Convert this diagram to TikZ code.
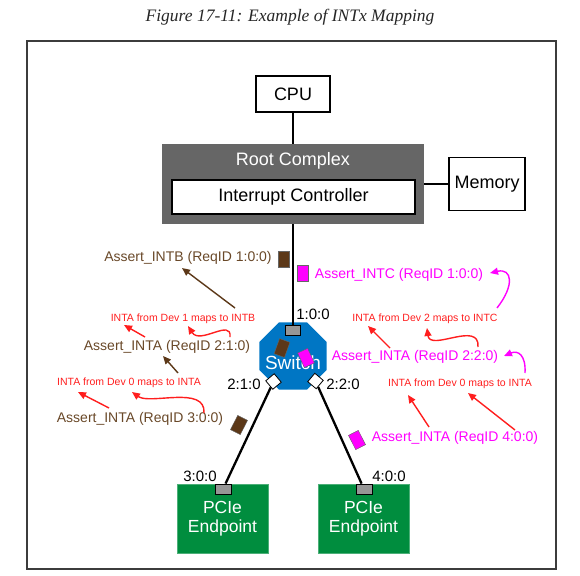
\documentclass[tikz,border=0pt]{standalone}
\usepackage{fontspec}
\setsansfont{Liberation Sans}
\newfontfamily\titlefont{Liberation Serif}
\usetikzlibrary{shapes.geometric,arrows.meta}
\definecolor{frameC}{RGB}{60,60,60}
\definecolor{rcgray}{RGB}{102,102,102}
\definecolor{swblue}{RGB}{0,118,196}
\definecolor{epgreen}{RGB}{0,141,62}
\definecolor{brownT}{RGB}{105,72,40}
\definecolor{brownP}{RGB}{92,56,24}
\definecolor{magT}{RGB}{255,0,255}
\definecolor{redT}{RGB}{255,30,30}
\definecolor{portgray}{RGB}{150,150,150}
\tikzset{
  box/.style={draw=black, line width=1.6pt, fill=white, inner sep=0pt, font=\sffamily\fontsize{18}{20}\selectfont},
  link/.style={draw=black, line width=2.3pt},
  portbox/.style={draw=black, line width=0.8pt, fill=portgray, inner sep=0pt, minimum width=15, minimum height=10},
  diam/.style={draw=black, line width=0.8pt, fill=white, inner sep=0pt, minimum width=11, minimum height=11},
  epbox/.style={fill=epgreen, draw=epgreen!70!white, line width=0.6pt, text=white, inner sep=0pt, minimum width=91, minimum height=69, align=center, font=\sffamily\fontsize{17.5}{18.5}\selectfont},
  pkt/.style={draw=black!60, line width=0.4pt, inner sep=0pt, minimum width=11, minimum height=16},
  lblB/.style={text=brownT, inner sep=0pt, font=\sffamily\fontsize{14}{16}\selectfont},
  lblM/.style={text=magT, inner sep=0pt, font=\sffamily\fontsize{14}{16}\selectfont},
  lblR/.style={text=redT, inner sep=0pt, font=\sffamily\fontsize{10.5}{12}\selectfont},
  portlbl/.style={text=black, inner sep=0pt, font=\sffamily\fontsize{15}{16}\selectfont},
  arrB/.style={draw=brownP, line width=1.4pt, -{Triangle[length=8pt,width=7pt]}},
  arrR/.style={draw=redT, line width=1.4pt, -{Triangle[length=8pt,width=7pt]}},
  arrM/.style={draw=magT, line width=1.4pt, -{Triangle[length=8pt,width=7pt]}},
}
\begin{document}
\begin{tikzpicture}[x=1pt,y=-1pt]
\useasboundingbox (0,0) rectangle (580,575);
% title and frame
\node[font=\titlefont\itshape\fontsize{17.5}{20}\selectfont, text=black!85] (title) at (290,17) {Figure 17-11: Example of INTx Mapping};
\node[draw=frameC, line width=1.8pt, minimum width=529, minimum height=528, inner sep=0pt] (frame) at (291.5,305) {};
% top boxes
\node[box, minimum width=74, minimum height=36] (cpu) at (293,94) {CPU};
\node[fill=rcgray, minimum width=262, minimum height=80, inner sep=0pt] (rc) at (293,184) {};
\node[text=white, inner sep=0pt, font=\sffamily\fontsize{18}{20}\selectfont] (rctxt) at (293,161) {Root Complex};
\node[box, minimum width=243, minimum height=34] (ic) at (293.5,197) {Interrupt Controller};
\node[box, minimum width=76, minimum height=53] (mem) at (487,184) {Memory};
\draw[link] (cpu) -- (rc);
\draw[link] (rc.east) -- (mem.west);
% switch
\node[regular polygon, regular polygon sides=8, fill=swblue, minimum size=73, inner sep=0pt] (sw) at (293,356) {};
\node[text=white, inner sep=0pt, font=\sffamily\fontsize{19}{20}\selectfont] (swtxt) at (293,363) {Switch};
\node[portbox] (p1) at (293,330) {};
\node[diam, rotate=40] (p2) at (273.5,381.5) {};
\node[diam, rotate=-40] (p3) at (315.5,381) {};
\draw[link] (rc) -- (p1);
\node[portlbl] (l1) at (313,314) {1:0:0};
\node[portlbl] (l2) at (244,384) {2:1:0};
\node[portlbl] (l3) at (343,384) {2:2:0};
% endpoints
\node[epbox] (ep1) at (222.5,518.5) {PCIe\\Endpoint};
\node[epbox] (ep2) at (363.5,518.5) {PCIe\\Endpoint};
\node[portbox, minimum width=16] (e1) at (223,489) {};
\node[portbox, minimum width=16] (e2) at (364,489) {};
\node[portlbl] (l4) at (200,476) {3:0:0};
\node[portlbl] (l5) at (389,476) {4:0:0};
\draw[link] (p2) -- (e1);
\draw[link] (p3) -- (e2);
% packets
\node[pkt, fill=brownP] (k1) at (283.5,259) {};
\node[pkt, fill=magT] (k2) at (302.5,273.5) {};
\node[pkt, fill=brownP, rotate=-20] (k3) at (282,348) {};
\node[pkt, fill=magT, rotate=25] (k4) at (306,358) {};
\node[pkt, fill=brownP, rotate=-27] (k5) at (239,425) {};
\node[pkt, fill=magT, rotate=27] (k6) at (357,440) {};
% left labels
\node[lblB] (t1) at (188,258) {Assert\_INTB (ReqID 1:0:0)};
\node[lblR] (t2) at (183,319) {INTA from Dev 1 maps to INTB};
\node[lblB] (t3) at (167,347) {Assert\_INTA (ReqID 2:1:0)};
\node[lblR] (t4) at (129,383) {INTA from Dev 0 maps to INTA};
\node[lblB] (t5) at (140,419) {Assert\_INTA (ReqID 3:0:0)};
% right labels
\node[lblM] (t6) at (399,275) {Assert\_INTC (ReqID 1:0:0)};
\node[lblR] (t7) at (425,319) {INTA from Dev 2 maps to INTC};
\node[lblM] (t8) at (415,357) {Assert\_INTA (ReqID 2:2:0)};
\node[lblR] (t9) at (460,384) {INTA from Dev 0 maps to INTA};
\node[lblM] (t10) at (455,438) {Assert\_INTA (ReqID 4:0:0)};
% arrow end points
\coordinate (a1s) at (235,308); \coordinate (a1e) at (182,268);
\coordinate (a2s) at (145,337); \coordinate (a2e) at (124,325);
\coordinate (a3s) at (230,337); \coordinate (a3e) at (188,326);
\coordinate (a4s) at (178,373); \coordinate (a4e) at (163,356);
\coordinate (a5s) at (109,408); \coordinate (a5e) at (78,392);
\coordinate (a6s) at (204,413); \coordinate (a6e) at (132,392);
\coordinate (b1s) at (497,308); \coordinate (b1e) at (490,273);
\coordinate (b2s) at (390,348); \coordinate (b2e) at (368,326);
\coordinate (b3s) at (478,347); \coordinate (b3e) at (427,328);
\coordinate (b4s) at (525,373); \coordinate (b4e) at (504,356);
\coordinate (b5s) at (429,427); \coordinate (b5e) at (408,395);
\coordinate (b6s) at (515,430); \coordinate (b6e) at (468,393);
% arrows
\draw[arrB] (a1s) -- (a1e);
\draw[arrR] (a2s) -- (a2e);
\draw[arrR] (a3s) .. controls (232,318) and (200,345) .. (a3e);
\draw[arrB] (a4s) -- (a4e);
\draw[arrR] (a5s) -- (a5e);
\draw[arrR] (a6s) .. controls (206,385) and (150,405) .. (a6e);
\draw[arrM] (b1s) .. controls (515,285) and (512,268) .. (b1e);
\draw[arrR] (b2s) -- (b2e);
\draw[arrR] (b3s) .. controls (480,320) and (430,352) .. (b3e);
\draw[arrM] (b4s) .. controls (526,355) and (518,350) .. (b4e);
\draw[arrR] (b5s) -- (b5e);
\draw[arrR] (b6s) -- (b6e);
\end{tikzpicture}
\end{document}
